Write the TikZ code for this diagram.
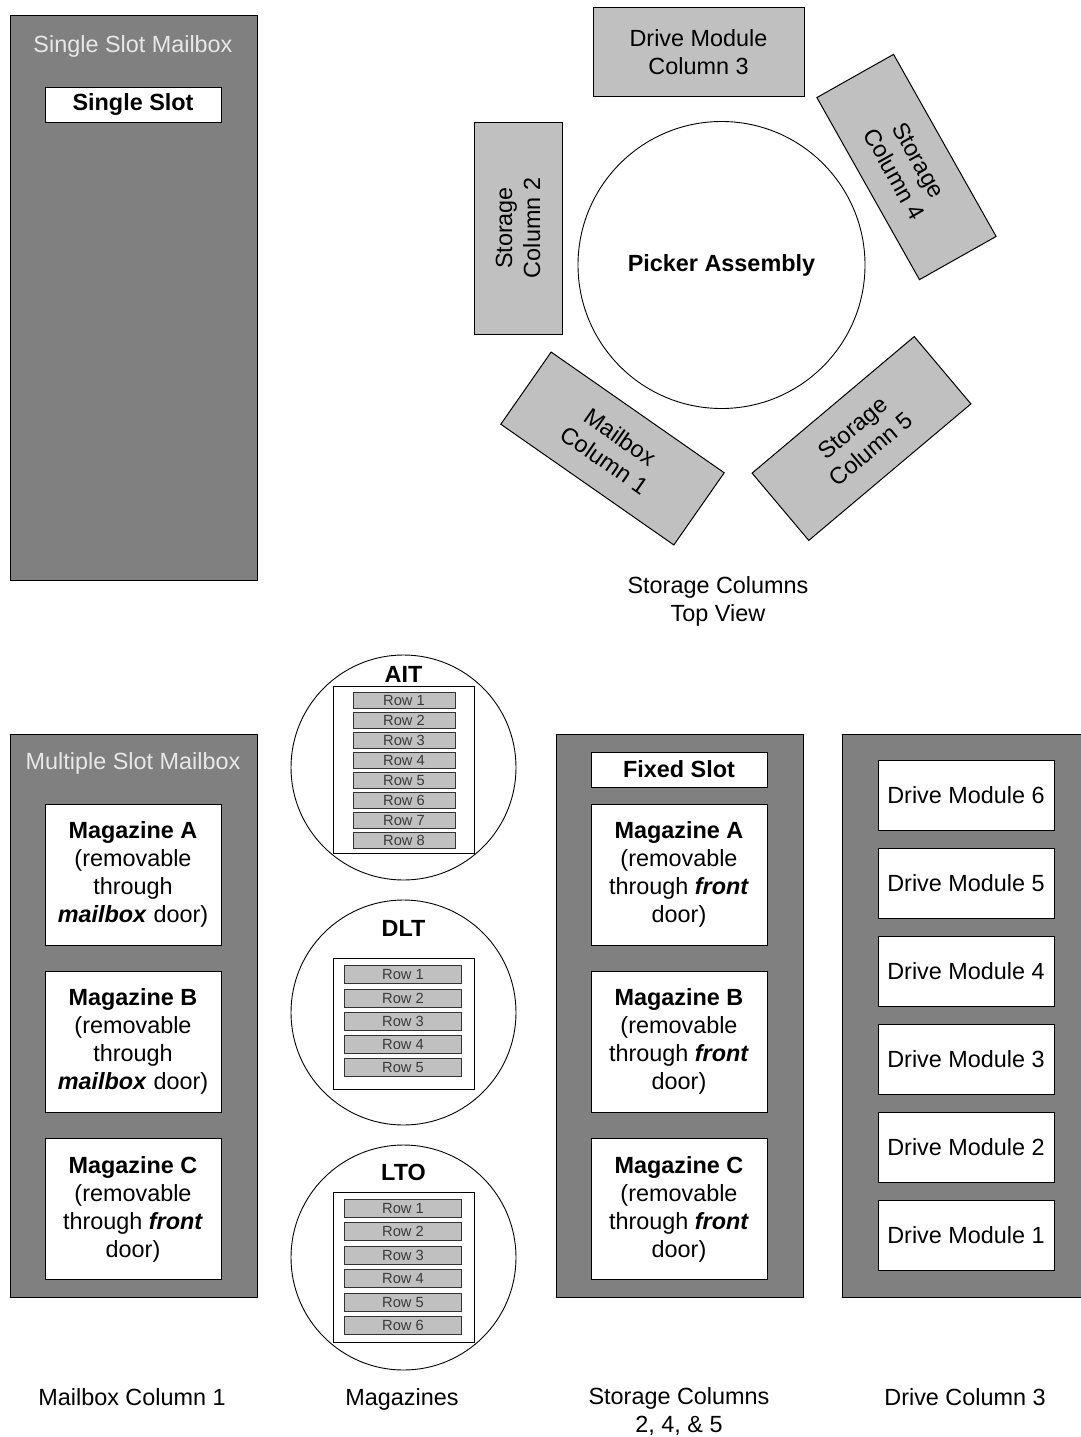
\documentclass[tikz,border=0pt]{standalone}
\usepackage{fontspec}
\setmainfont{Liberation Sans}
\usetikzlibrary{shapes.geometric}
\definecolor{darkfill}{HTML}{808080}
\definecolor{lightfill}{HTML}{C0C0C0}
\definecolor{titletext}{HTML}{E8E8E8}
\definecolor{rowtext}{HTML}{3A3A3A}
\tikzset{
  base/.style={inner sep=0pt, outer sep=0pt, align=center, font=\fontsize{23.4}{28}\selectfont},
  darkcol/.style={base, draw=black, fill=darkfill, line width=1pt},
  whitebox/.style={base, draw=black, fill=white, line width=1pt},
  graybox/.style={base, draw=black, fill=lightfill, line width=1pt},
  coltitle/.style={base, text=titletext, anchor=base},
  plain/.style={base},
  magcircle/.style={base, circle, draw=black, fill=white, line width=0.9pt, minimum size=225pt},
  inner/.style={base, draw=black, fill=white, line width=1pt},
  rowbox/.style={base, draw=black!80, fill=lightfill, line width=0.9pt, text=rowtext, font=\fontsize{14.7}{16}\selectfont},
}
\begin{document}
\begin{tikzpicture}[x=1pt,y=-1pt]
\clip (0,0) rectangle (1081,1437);
\fill[white] (0,0) rectangle (1081,1437);

% ---------- Single slot mailbox ----------
\node[darkcol, minimum width=247pt, minimum height=564pt] (ssm) at (133.5,298) {};
\node[coltitle] (ssmt) at (133,52.4) {Single Slot Mailbox};
\node[whitebox, minimum width=176pt, minimum height=35pt] (ss) at (133,104.5) {\textbf{Single Slot}};

% ---------- Top view ----------
\node[graybox, minimum width=211pt, minimum height=88pt] (dmc3) at (698.5,52) {Drive Module\\Column 3};
\node[graybox, minimum width=212pt, minimum height=88pt, rotate=90] (sc2) at (518,228) {Storage\\Column 2};
\node[graybox, minimum width=209pt, minimum height=88pt, rotate=-60.6] (sc4) at (906.5,167) {Storage\\Column 4};
\node[graybox, minimum width=212pt, minimum height=88pt, rotate=40.1] (sc5) at (861.5,438.5) {Storage\\Column 5};
\node[graybox, minimum width=211pt, minimum height=88pt, rotate=-34.9] (mc1) at (612.5,448.5) {Mailbox\\Column 1};
\node[base, circle, draw=black, fill=white, line width=0.9pt, minimum size=287pt] (picker) at (721.5,265) {\textbf{Picker Assembly}};
\node[plain] (tvlabel) at (718,601) {Storage Columns\\Top View};

% ---------- Multiple slot mailbox ----------
\node[darkcol, minimum width=247pt, minimum height=563pt] (msm) at (133.5,1015.5) {};
\node[coltitle] (msmt) at (133,769.4) {Multiple Slot Mailbox};
\node[whitebox, minimum width=176pt, minimum height=141pt] (mma) at (133,874.5) {\textbf{Magazine A}\\(removable\\through\\\textbf{\textit{mailbox}} door)};
\node[whitebox, minimum width=176pt, minimum height=141pt] (mmb) at (133,1041.5) {\textbf{Magazine B}\\(removable\\through\\\textbf{\textit{mailbox}} door)};
\node[whitebox, minimum width=176pt, minimum height=141pt] (mmc) at (133,1209) {\textbf{Magazine C}\\(removable\\through \textbf{\textit{front}}\\door)};

% ---------- Storage columns 2,4,5 ----------
\node[darkcol, minimum width=247pt, minimum height=563pt] (scol) at (679.5,1015.5) {};
\node[whitebox, minimum width=176pt, minimum height=35pt] (fixed) at (679,769.5) {\textbf{Fixed Slot}};
\node[whitebox, minimum width=176pt, minimum height=141pt] (sma) at (679,874.5) {\textbf{Magazine A}\\(removable\\through \textbf{\textit{front}}\\door)};
\node[whitebox, minimum width=176pt, minimum height=141pt] (smb) at (679,1041.5) {\textbf{Magazine B}\\(removable\\through \textbf{\textit{front}}\\door)};
\node[whitebox, minimum width=176pt, minimum height=141pt] (smc) at (679,1209) {\textbf{Magazine C}\\(removable\\through \textbf{\textit{front}}\\door)};

% ---------- Drive column ----------
\node[darkcol, minimum width=253pt, minimum height=563pt] (dcol) at (968.5,1015.5) {};
\foreach \n/\y in {6/795,5/883,4/971,3/1059,2/1147,1/1235}{
  \node[whitebox, minimum width=176pt, minimum height=70pt] (dm\n) at (966,\y) {Drive Module \n};
}

% ---------- Magazines ----------
\node[magcircle] (aitc) at (403.5,767.5) {};
\node[base] (aitt) at (403.5,674) {\textbf{AIT}};
\node[inner, minimum width=141pt, minimum height=167pt] (aiti) at (403.5,769.5) {};
\foreach \k in {1,...,8}{
  \node[rowbox, minimum width=102pt, minimum height=16pt] (ait\k) at (404,680.7+20*\k) {Row \k};
}

\node[magcircle] (dltc) at (403.5,1012.5) {};
\node[base] (dltt) at (403.5,928) {\textbf{DLT}};
\node[inner, minimum width=141pt, minimum height=131pt] (dlti) at (403.5,1023.5) {};
\foreach \k in {1,...,5}{
  \node[rowbox, minimum width=117pt, minimum height=18pt] (dlt\k) at (403,951.4+23.3*\k) {Row \k};
}

\node[magcircle] (ltoc) at (403.5,1257.5) {};
\node[base] (ltot) at (403.5,1172) {\textbf{LTO}};
\node[inner, minimum width=141pt, minimum height=150pt] (ltoi) at (403.5,1267) {};
\foreach \k in {1,...,6}{
  \node[rowbox, minimum width=117pt, minimum height=18pt] (lto\k) at (403,1184.8+23.5*\k) {Row \k};
}

% ---------- Bottom labels ----------
\node[plain, anchor=base] (lab1) at (132,1405.4) {Mailbox Column 1};
\node[plain, anchor=base] (lab2) at (402,1405.4) {Magazines};
\node[plain] (lab3) at (679,1411) {Storage Columns\\2, 4, \& 5};
\node[plain, anchor=base] (lab4) at (965,1405.4) {Drive Column 3};
\end{tikzpicture}
\end{document}
